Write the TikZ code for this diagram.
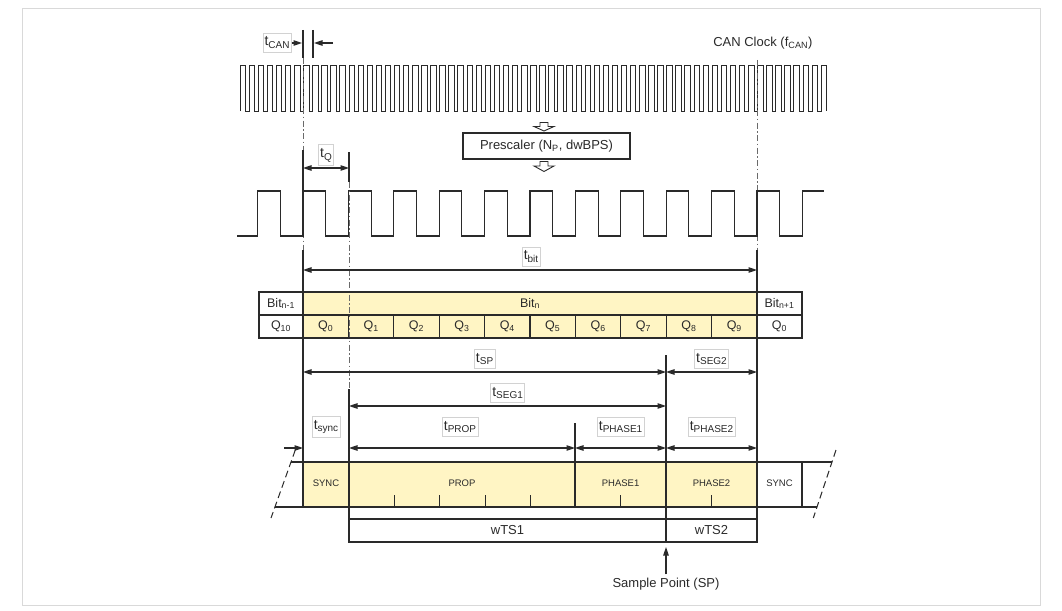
\documentclass[tikz,border=0pt]{standalone}
\usepackage{fontspec}
\setmainfont{Liberation Sans}
\usetikzlibrary{arrows.meta}
\definecolor{seg}{HTML}{FFF5C4}
\definecolor{ln}{HTML}{2A2A2A}
\newcommand\lsub[1]{\raisebox{-0.4ex}{\fontsize{10}{12}\selectfont #1}}
\begin{document}
\begin{tikzpicture}[x=1pt,y=-1pt,
  ln/.style={draw=ln, line width=1.05pt},
  dd/.style={draw=ln!70, line width=1pt, dash pattern=on 6pt off 2.5pt on 1.5pt off 2.5pt},
  dim/.style={draw=ln, line width=1.05pt, {Triangle[length=8.5pt,width=5.5pt]}-{Triangle[length=8.5pt,width=5.5pt]}},
  arr/.style={draw=ln, line width=1.05pt, -{Triangle[length=8.5pt,width=5.5pt]}},
  lbl/.style={draw=gray!35, fill=white, inner xsep=1.8pt, inner ysep=3.5pt, font=\fontsize{14}{16}\selectfont, text=ln},
  txt/.style={font=\fontsize{13}{15}\selectfont, text=ln},
  cell/.style={font=\fontsize{12.5}{14}\selectfont, text=ln},
  small/.style={font=\fontsize{9.5}{11}\selectfont, text=ln},
  hollow/.style={draw=ln, line width=0.9pt, fill=white}
]
\useasboundingbox (0,0) rectangle (1062,610);
\draw[gray!30, line width=0.6pt] (22,8) rectangle (1040,605);

% ---------- CAN clock ----------
\draw[draw=ln, line width=0.9pt] (240,111) \foreach \k in {0,...,64}{ -- ({240+\k*9.08},111) -- ({240+\k*9.08},65) -- ({245.5+\k*9.08},65) -- ({245.5+\k*9.08},111) };
\node[txt, anchor=east] (canclk) at (816,43) {CAN Clock (f\textsubscript{CAN})};

% tCAN
\node[lbl] (tcan) at (277,43) {t\lsub{CAN}};
\draw[ln, line width=1.8pt] (303,30) -- (303,58);
\draw[ln, line width=1.8pt] (313,30) -- (313,58);
\coordinate (m1) at (302,43);
\coordinate (m2s) at (333,43);
\coordinate (m2) at (314,43);
\draw[arr] (tcan.east) -- (m1);
\draw[arr] (m2s) -- (m2);

% ---------- Prescaler ----------
\draw[hollow] (540,122.5) -- (548,122.5) -- (548,126.5) -- (554,126.5) -- (544,131) -- (534,126.5) -- (540,126.5) -- cycle;
\node[draw=ln, line width=1.05pt, fill=white, minimum width=167pt, minimum height=26pt, txt] (pre) at (546.5,146) {Prescaler (N\textsubscript{P}, dwBPS)};
\draw[hollow] (540,161.5) -- (548,161.5) -- (548,166) -- (554,166) -- (544,171.5) -- (534,166) -- (540,166) -- cycle;

% ---------- dash-dot reference lines ----------
\draw[dd] (303,58) -- (303,150);
\draw[dd] (303,182) -- (303,250);
\draw[dd] (757,60) -- (757,250);

% ---------- Quantum clock ----------
\draw[ln] (237,236) \foreach \k in {-1,...,10}{ -- ({303+\k*45.4},236) -- ({303+\k*45.4},191) -- ({325.7+\k*45.4},191) -- ({325.7+\k*45.4},236) } -- (802.4,236) -- (802.4,191) -- (824,191);

% tQ
\node[lbl] (tq) at (326,155) {t\lsub{Q}};
\draw[ln] (303,150) -- (303,191);
\draw[ln] (349,152) -- (349,182);
\coordinate (q0) at (303,168);
\coordinate (q1) at (349,168);
\draw[dim] (q0) -- (q1);

% ---------- table ----------
\fill[seg] (303,292) rectangle (757,338);
\draw[dd] (349,182) -- (349,389);
\draw[ln] (259,292) rectangle (802,338);
\draw[ln] (259,315) -- (802,315);
\draw[ln] (303,292) -- (303,338);
\draw[ln] (757,292) -- (757,338);
\foreach \k in {1,...,9}{ \draw[ln] ({303+\k*45.4},315) -- ({303+\k*45.4},338); }
\node[cell] (bm1) at (281,303.5) {Bit\textsubscript{n-1}};
\node[cell] (bn) at (530,303.5) {Bit\textsubscript{n}};
\node[cell] (bp1) at (779.5,303.5) {Bit\textsubscript{n+1}};
\node[cell] (q10) at (281,326.5) {Q\textsubscript{10}};
\foreach \k in {0,...,9}{ \node[cell] (qq\k) at ({325.7+\k*45.4},326.5) {Q\textsubscript{\k}}; }
\node[cell] (qn0) at (779.5,326.5) {Q\textsubscript{0}};

% tbit
\draw[ln] (303,250) -- (303,292);
\draw[ln] (757,250) -- (757,292);
\node[lbl] (tbit) at (531,257) {t\lsub{bit}};
\coordinate (b0) at (303,270);
\coordinate (b1) at (757,270);
\draw[dim] (b0) -- (b1);

% ---------- solid extension lines ----------
\draw[ln] (303,338) -- (303,507);
\draw[ln] (757,338) -- (757,542);
\draw[ln] (349,389) -- (349,542);
\draw[ln] (666,355) -- (666,542);
\draw[ln] (575,423) -- (575,507);

% tSP, tSEG2
\node[lbl] (tsp) at (484.6,359) {t\lsub{SP}};
\node[lbl] (tseg2) at (711.5,359) {t\lsub{SEG2}};
\coordinate (sp0) at (303,372);
\coordinate (sp1) at (666,372);
\coordinate (sp2) at (757,372);
\draw[dim] (sp0) -- (sp1);
\draw[dim] (sp1) -- (sp2);

% tSEG1
\node[lbl] (tseg1) at (507.6,393) {t\lsub{SEG1}};
\coordinate (s10) at (349,406);
\coordinate (s11) at (666,406);
\draw[dim] (s10) -- (s11);

% row of segment times
\node[lbl] (tsync) at (326,427) {t\lsub{sync}};
\node[lbl] (tprop) at (460,427) {t\lsub{PROP}};
\node[lbl] (tph1) at (620.6,427) {t\lsub{PHASE1}};
\node[lbl] (tph2) at (711.5,427) {t\lsub{PHASE2}};
\coordinate (y0s) at (284,448);
\coordinate (y0) at (303,448);
\coordinate (y1) at (349,448);
\coordinate (y2) at (575,448);
\coordinate (y3) at (666,448);
\coordinate (y4) at (757,448);
\draw[arr] (y0s) -- (y0);
\draw[dim] (y1) -- (y2);
\draw[dim] (y2) -- (y3);
\draw[dim] (y3) -- (y4);

% ---------- segment row ----------
\fill[seg] (303,462) rectangle (757,507);
\draw[ln] (291,462) -- (832,462);
\draw[ln] (275,507) -- (817,507);
\draw[draw=ln, line width=1pt, dash pattern=on 7pt off 4pt] (295.3,450) -- (271,518);
\draw[draw=ln, line width=1pt, dash pattern=on 7pt off 4pt] (836,450) -- (813.3,518);
\foreach \x in {303,349,575,666,757,802}{ \draw[ln] (\x,462) -- (\x,507); }
\foreach \x in {394.4,439.8,485.2,530.6,620.8,711.6}{ \draw[ln] (\x,495) -- (\x,507); }
\node[small] (sync1) at (326,483) {SYNC};
\node[small] (prop) at (462,483) {PROP};
\node[small] (ph1) at (620.6,483) {PHASE1};
\node[small] (ph2) at (711.5,483) {PHASE2};
\node[small] (sync2) at (779.5,483) {SYNC};

% ---------- wTS ----------
\draw[ln] (349,519) rectangle (757,542);
\draw[ln] (666,519) -- (666,542);
\node[txt] (wts1) at (507.5,530.5) {wTS1};
\node[txt] (wts2) at (711.5,530.5) {wTS2};

% sample point
\node[txt] (sp) at (666,584) {Sample Point (SP)};
\coordinate (spt) at (666,547);
\draw[arr] (sp.north) -- (spt);
\end{tikzpicture}
\end{document}
